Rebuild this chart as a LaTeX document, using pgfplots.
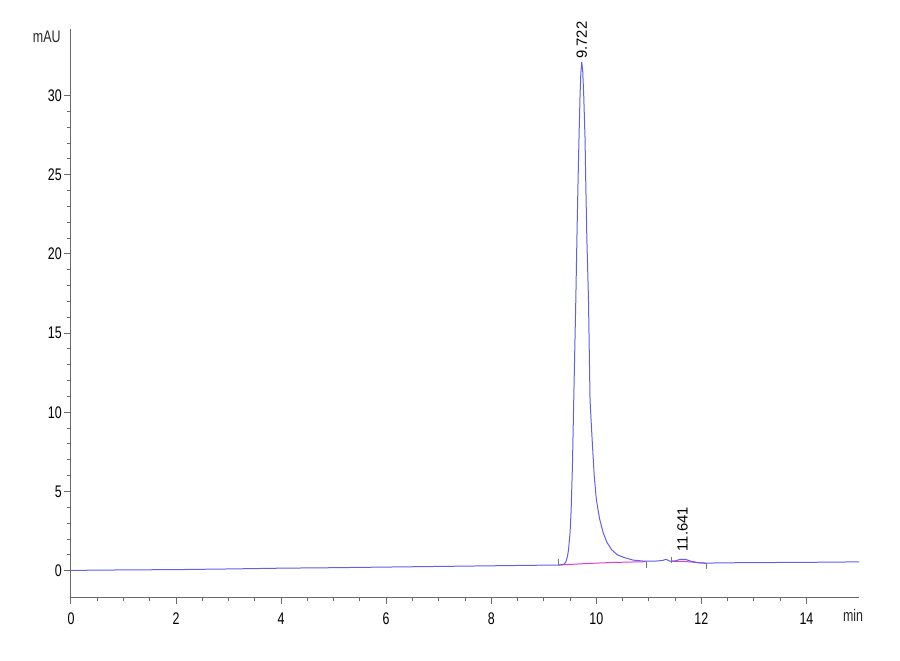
\documentclass[border=0pt]{standalone}
\usepackage{fontspec}
\setmainfont{Liberation Sans}
\newfontfamily\narrowfont{Liberation Sans}[FakeStretch=0.74]
\usepackage{pgfplots}
\pgfplotsset{compat=1.18}
\usepackage{pgfplotstable}

\definecolor{trace}{RGB}{96,96,232}
\definecolor{basefit}{RGB}{228,60,210}
\definecolor{axisgray}{RGB}{105,105,105}
\definecolor{markgray}{RGB}{120,120,120}

% detector signal (min, mAU)
\pgfplotstableread{
t y
0 0.02
1 0.05
2 0.07
3 0.11
4 0.16
5 0.19
6 0.23
7 0.27
8 0.31
9 0.35
9.30 0.36
9.38 0.40
9.42 0.55
9.45 0.90
9.47 1.30
9.50 2.40
9.52 3.80
9.545 6.6
9.57 10.8
9.59 14.0
9.61 17.2
9.63 20.9
9.65 24.3
9.67 27.3
9.69 30.0
9.705 31.4
9.722 32.1
9.74 31.6
9.76 30.0
9.785 27.3
9.80 24.3
9.82 20.9
9.85 17.2
9.865 14.0
9.88 10.8
9.90 9.5
9.93 7.7
9.96 6.0
10.00 4.5
10.06 3.3
10.13 2.4
10.20 1.8
10.29 1.33
10.40 1.0
10.54 0.82
10.70 0.67
10.92 0.60
11.10 0.60
11.25 0.64
11.33 0.72
11.40 0.60
11.50 0.62
11.60 0.72
11.69 0.72
11.80 0.60
11.95 0.50
12.10 0.48
12.50 0.50
13.00 0.51
13.50 0.52
14.00 0.53
14.50 0.54
15.00 0.56
}\signal

\begin{document}
\begin{tikzpicture}
\begin{axis}[
    at={(0,0)}, anchor=south west,
    scale only axis,
    width=394pt, height=284pt,
    xmin=0, xmax=15,
    ymin=-1.66, ymax=34.2,
    axis lines=left,
    axis line style={-, draw=axisgray, line width=0.5pt},
    tick align=outside,
    tick style={draw=axisgray, line width=0.5pt},
    major tick length=3.5pt,
    minor tick length=2pt,
    xtick={0,2,...,14},
    ytick={0,5,...,30},
    minor x tick num=3,
    minor y tick num=4,
    /pgf/number format/assume math mode=true,
    tick label style={font=\narrowfont\fontsize{8.4}{10}\selectfont, text=black},
    xticklabel style={yshift=-1pt},
    yticklabel style={xshift=2.4pt},
    clip=false,
]
\addplot[basefit, line width=0.5pt] coordinates {(9.28,0.36) (9.8,0.45) (10.3,0.52) (10.95,0.57)};
\addplot[basefit, line width=0.5pt] coordinates {(11.43,0.60) (11.7,0.58) (12.09,0.46)};
\addplot[trace, line width=0.5pt] table[x=t, y=y] {\signal};
% integration start / end markers
\addplot[markgray, line width=0.5pt] coordinates {(9.28,0.38) (9.28,0.76)};
\addplot[markgray, line width=0.5pt] coordinates {(10.95,0.57) (10.95,0.19)};
\addplot[markgray, line width=0.5pt] coordinates {(11.43,0.50) (11.43,0.89)};
\addplot[markgray, line width=0.5pt] coordinates {(12.09,0.46) (12.09,0.13)};

\node[rotate=90, anchor=west, inner sep=0pt, font=\fontsize{7.4}{9}\selectfont]
    at (axis cs:9.722,32.3) {9.722};
\node[rotate=90, anchor=west, inner sep=0pt, font=\fontsize{7.4}{9}\selectfont]
    at (axis cs:11.641,1.2) {11.641};
\node[anchor=east, inner sep=0pt, font=\narrowfont\fontsize{8.4}{10}\selectfont, text=black!85]
    at (axis cs:0,33.7) [xshift=-5pt] {mAU};
\node[anchor=base west, inner sep=0pt, font=\narrowfont\fontsize{8.4}{10}\selectfont, text=black!85]
    at (axis cs:14.69,-1.66) [yshift=-12.4pt] {min};
\end{axis}
\pgfresetboundingbox
\path (-35.5pt,-31.5pt) rectangle (414.5pt,298.5pt);
\end{tikzpicture}
\end{document}
